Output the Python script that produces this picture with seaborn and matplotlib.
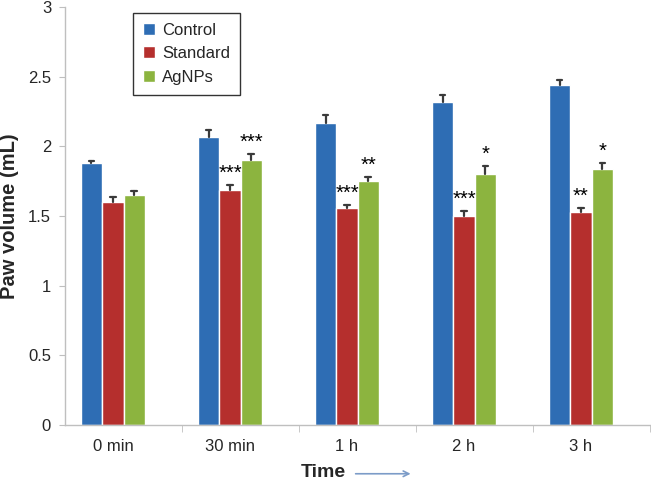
import numpy as np
import pandas as pd
import matplotlib
matplotlib.use("Agg")
import matplotlib.pyplot as plt
import seaborn as sns

# data
times = ["0 min", "30 min", "1 h", "2 h", "3 h"]
groups = ["Control", "Standard", "AgNPs"]
control = [1.88, 2.07, 2.17, 2.32, 2.44]
standard = [1.60, 1.69, 1.56, 1.50, 1.53]
agnps = [1.65, 1.90, 1.75, 1.80, 1.84]
control_err = [0.012, 0.046, 0.058, 0.050, 0.036]
standard_err = [0.033, 0.036, 0.022, 0.036, 0.026]
agnps_err = [0.026, 0.043, 0.033, 0.059, 0.038]
standard_sig = ["", "***", "***", "***", "**"]
agnps_sig = ["", "***", "**", "*", "*"]

colors = ["#2E6DB4", "#B52F2D", "#8CB43F"]

df = pd.DataFrame({
    "Time": times * 3,
    "Group": [g for g in groups for _ in times],
    "Volume": control + standard + agnps,
})

sns.set_style("white")
plt.rcParams["font.family"] = ["Liberation Sans", "DejaVu Sans"]

fig = plt.figure(figsize=(6.51, 4.8), dpi=100)
ax = fig.add_axes([0.0998, 0.1146, 0.8987, 0.8708])

sns.barplot(data=df, x="Time", y="Volume", hue="Group", order=times,
            hue_order=groups, palette=colors, width=0.55, gap=0,
            errorbar=None, saturation=1, ax=ax, legend=True)

# error bars (upper only) + significance stars, placed from the bars
errs = [control_err, standard_err, agnps_err]
sigs = [None, standard_sig, agnps_sig]
for gi, cont in enumerate(ax.containers):
    for bi, bar in enumerate(cont):
        xc = bar.get_x() + bar.get_width() / 2
        top = bar.get_height()
        e = errs[gi][bi]
        ax.plot([xc, xc], [top, top + e], color="#3A3A3A", lw=1.6, zorder=3)
        ax.plot([xc - 0.025, xc + 0.025], [top + e, top + e],
                color="#3A3A3A", lw=1.6, zorder=3)
        if sigs[gi] is not None and sigs[gi][bi]:
            ax.text(xc, top + e + 0.015, sigs[gi][bi], ha="center",
                    va="bottom", fontsize=14.5, color="black")

ax.set_ylim(0, 3)
ax.set_xlim(-0.41, 4.59)
ax.set_yticks(np.arange(0, 3.01, 0.5))
ax.set_yticklabels(["0", "0.5", "1", "1.5", "2", "2.5", "3"])
ax.set_xticks(np.arange(0.59, 4.6, 1), minor=True)
ax.tick_params(axis="x", which="major", length=0, labelsize=12, pad=10)
ax.tick_params(axis="x", which="minor", length=5, color="#BFBFBF",
               bottom=True, direction="out")
ax.tick_params(axis="y", length=4, color="#BFBFBF", labelsize=12,
               left=True, direction="out", pad=6)

for s in ["top", "right"]:
    ax.spines[s].set_visible(False)
for s in ["left", "bottom"]:
    ax.spines[s].set_color("#BFBFBF")
    ax.spines[s].set_linewidth(1)

ax.set_ylabel("Paw volume (mL)", fontsize=14.5, fontweight="bold")
ax.yaxis.set_label_coords(-0.079, 0.50)
ax.set_xlabel("")

# x label with arrow
fig.text(0.496, 0.016, "Time", fontsize=14, fontweight="bold",
         ha="center", va="center")
ax.annotate("", xy=(0.635, 0.013), xycoords="figure fraction",
            xytext=(0.542, 0.013),
            arrowprops=dict(arrowstyle="->", color="#7C9CC8", lw=1.2))

leg = ax.legend(loc="upper left", bbox_to_anchor=(0.116, 0.986),
                borderaxespad=0, fontsize=12, frameon=True, fancybox=False,
                handlelength=0.75, handleheight=0.75, handletextpad=0.4,
                labelspacing=0.5, borderpad=0.6, title=None)
leg.get_frame().set_edgecolor("black")
leg.get_frame().set_linewidth(1)

fig.savefig("out.png", dpi=100)
